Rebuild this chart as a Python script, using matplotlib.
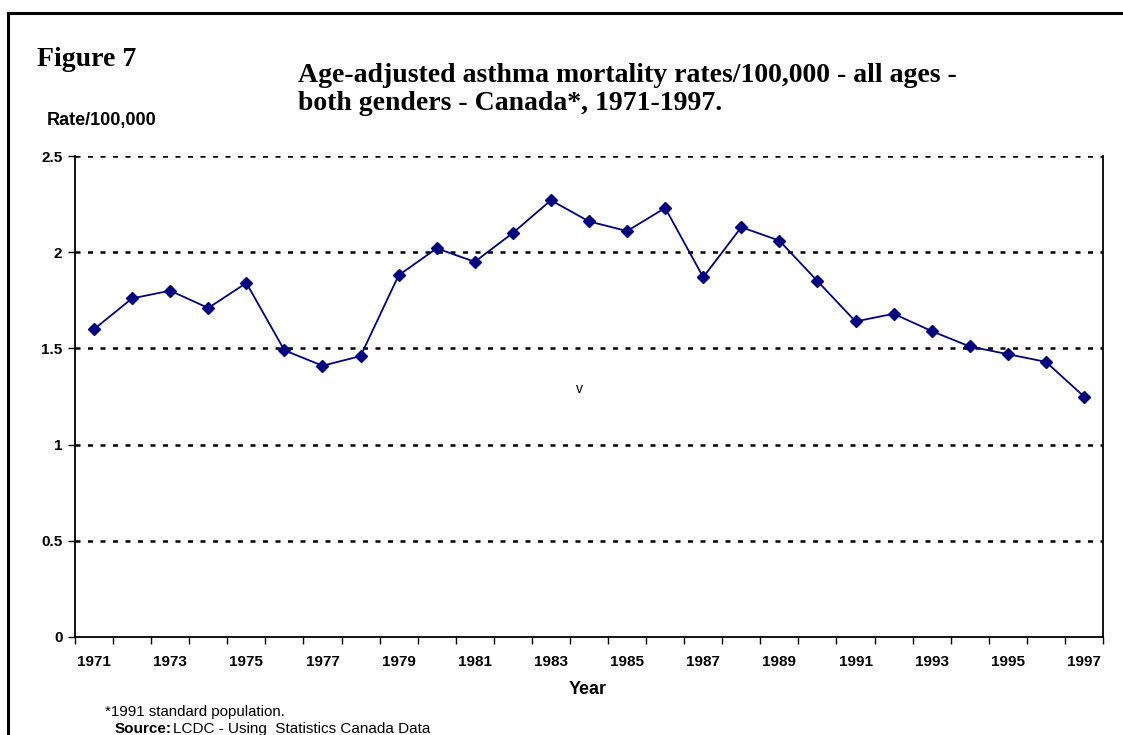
import numpy as np
import matplotlib
matplotlib.use("Agg")
import matplotlib.pyplot as plt
from matplotlib.lines import Line2D

years = list(range(1971, 1998))
rates = [1.60, 1.76, 1.80, 1.71, 1.84, 1.49, 1.41, 1.46, 1.88, 2.02,
         1.95, 2.10, 2.27, 2.16, 2.11, 2.23, 1.87, 2.13, 2.06, 1.85,
         1.64, 1.68, 1.59, 1.51, 1.47, 1.43, 1.25]
yticks = [0, 0.5, 1, 1.5, 2, 2.5]
ytick_labels = ["0", "0.5", "1", "1.5", "2", "2.5"]

sans = "Liberation Sans"
serif = "Liberation Serif"

fig = plt.figure(figsize=(11.23, 7.35), dpi=100)
ax = fig.add_axes([75/1123, 1 - 637/735, 1028/1123, 481/735])

x = np.arange(len(years))
ax.plot(x, rates, color="#000080", lw=1.3, marker="D", ms=6,
        mfc="#000080", mec="#000080")

ax.set_xlim(-0.5, len(years) - 0.5)
ax.set_ylim(0, 2.5)

# dotted gridlines
for v in yticks[1:]:
    ax.axhline(v, color="black", lw=1.8, ls=(0, (2, 3)), zorder=0)

ax.set_yticks(yticks)
ax.set_yticklabels(ytick_labels, fontfamily=sans, fontweight="bold", fontsize=11)
ax.set_xticks(x[::2])
ax.set_xticklabels([str(y) for y in years[::2]], fontfamily=sans,
                   fontweight="bold", fontsize=11)
ax.set_xticks(np.arange(-0.5, len(years)), minor=True)
ax.tick_params(axis="x", which="major", length=0, pad=13)
ax.tick_params(axis="x", which="minor", length=5, width=1, direction="out")
ax.tick_params(axis="y", length=5, width=1, pad=4)

ax.spines["top"].set_visible(False)
for s in ["left", "right", "bottom"]:
    ax.spines[s].set_linewidth(1.3)
    ax.spines[s].set_color("black")

ax.text(12.65, 1.27, "v", fontfamily=sans, fontsize=10)

fig.text(37/1123, 1 - 60/735, "Figure 7", fontfamily=serif, fontweight="bold",
         fontsize=20, va="center")
fig.text(298/1123, 1 - 75/735, "Age-adjusted asthma mortality rates/100,000 - all ages -",
         fontfamily=serif, fontweight="bold", fontsize=20, va="center")
fig.text(298/1123, 1 - 103/735, "both genders - Canada*, 1971-1997.",
         fontfamily=serif, fontweight="bold", fontsize=20, va="center")
fig.text(47/1123, 1 - 120/735, "Rate/100,000", fontfamily=sans, fontweight="bold",
         fontsize=13, va="center")
fig.text(588/1123, 1 - 690/735, "Year", fontfamily=sans, fontweight="bold",
         fontsize=13, va="center", ha="center")
fig.text(105/1123, 1 - 712/735, "*1991 standard population.", fontfamily=sans,
         fontsize=10.8, va="center")
fig.text(115/1123, 1 - 729/735, "Source:", fontfamily=sans, fontweight="bold",
         fontsize=11, va="center")
fig.text(173/1123, 1 - 729/735, "LCDC - Using  Statistics Canada Data", fontfamily=sans,
         fontsize=11, va="center")

# outer frame (top and left)
fig.add_artist(Line2D([8/1123, 1], [1 - 13/735, 1 - 13/735], color="black", lw=2.2,
                      transform=fig.transFigure))
fig.add_artist(Line2D([8/1123, 8/1123], [0, 1 - 13/735], color="black", lw=2.2,
                      transform=fig.transFigure))

fig.savefig("out.png", dpi=100)
